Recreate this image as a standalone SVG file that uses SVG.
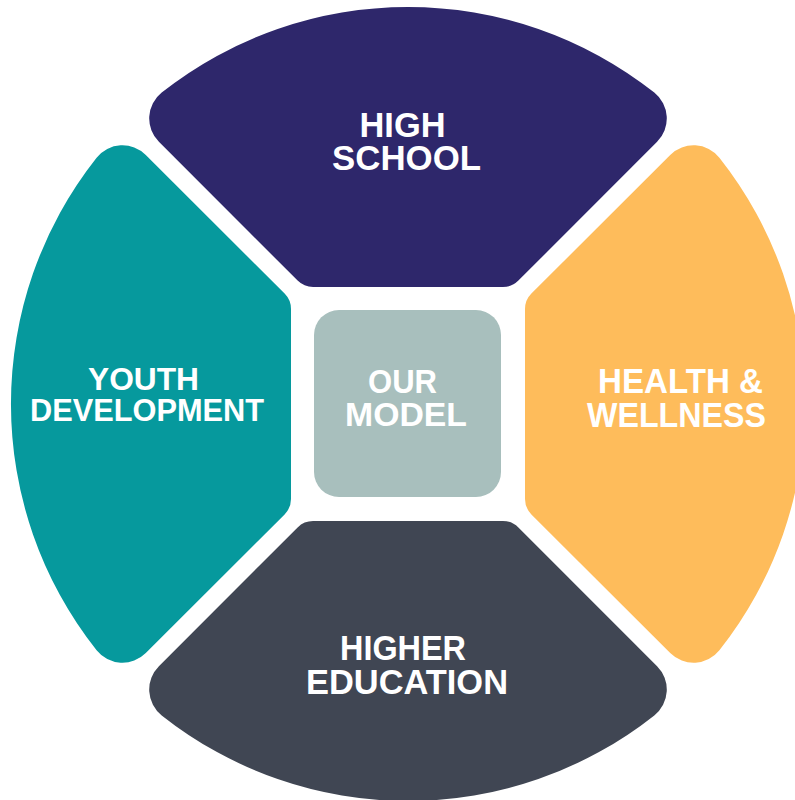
<svg xmlns="http://www.w3.org/2000/svg" xmlns:xlink="http://www.w3.org/1999/xlink" width="795" height="800" viewBox="0 0 795 800">
  <style>
    .lbl { font-family: "Liberation Sans", Arial, sans-serif; font-weight: bold; fill: #ffffff; text-anchor: middle; }
  </style>
  <defs>
    <path id="sector" d="M 158.9,141.8 L 297.6,280.6 A 22 22 0 0 0 313.1,287 L 502.9,287 A 22 22 0 0 0 518.4,280.6 L 657.1,141.8 A 33 33 0 0 0 654.3,92.6 A 397 397 0 0 0 161.7,92.6 A 33 33 0 0 0 158.9,141.8 Z"/>
  </defs>
  <rect width="795" height="800" fill="#ffffff"/>
  <g id="connectors"></g>
  <g id="high-school">
    <use xlink:href="#sector" href="#sector" fill="#2e276b"/>
    <text class="lbl" font-size="34.5" x="402.5" y="137" textLength="86" lengthAdjust="spacingAndGlyphs">HIGH</text>
    <text class="lbl" font-size="34.5" x="406.5" y="170" textLength="149" lengthAdjust="spacingAndGlyphs">SCHOOL</text>
  </g>
  <g id="youth-development">
    <use xlink:href="#sector" href="#sector" fill="#06999d" transform="rotate(-90 408 404)"/>
    <text class="lbl" font-size="32" x="143.5" y="390" textLength="111" lengthAdjust="spacingAndGlyphs">YOUTH</text>
    <text class="lbl" font-size="32" x="147" y="421" textLength="234" lengthAdjust="spacingAndGlyphs">DEVELOPMENT</text>
  </g>
  <g id="health-wellness">
    <use xlink:href="#sector" href="#sector" fill="#febc5b" transform="rotate(90 408 404)"/>
    <text class="lbl" font-size="34.5" x="680.5" y="393" textLength="165" lengthAdjust="spacingAndGlyphs">HEALTH &amp;</text>
    <text class="lbl" font-size="34.5" x="676.5" y="427" textLength="179" lengthAdjust="spacingAndGlyphs">WELLNESS</text>
  </g>
  <g id="higher-education">
    <use xlink:href="#sector" href="#sector" fill="#404653" transform="rotate(180 408 404)"/>
    <text class="lbl" font-size="35" x="403" y="660" textLength="126" lengthAdjust="spacingAndGlyphs">HIGHER</text>
    <text class="lbl" font-size="35" x="407" y="694" textLength="202" lengthAdjust="spacingAndGlyphs">EDUCATION</text>
  </g>
  <g id="our-model">
    <rect x="314" y="310" width="187" height="187" rx="25" ry="25" fill="#a8bfbd"/>
    <text class="lbl" font-size="33" x="402.5" y="393" textLength="69" lengthAdjust="spacingAndGlyphs">OUR</text>
    <text class="lbl" font-size="33" x="406" y="426" textLength="122" lengthAdjust="spacingAndGlyphs">MODEL</text>
  </g>
</svg>
